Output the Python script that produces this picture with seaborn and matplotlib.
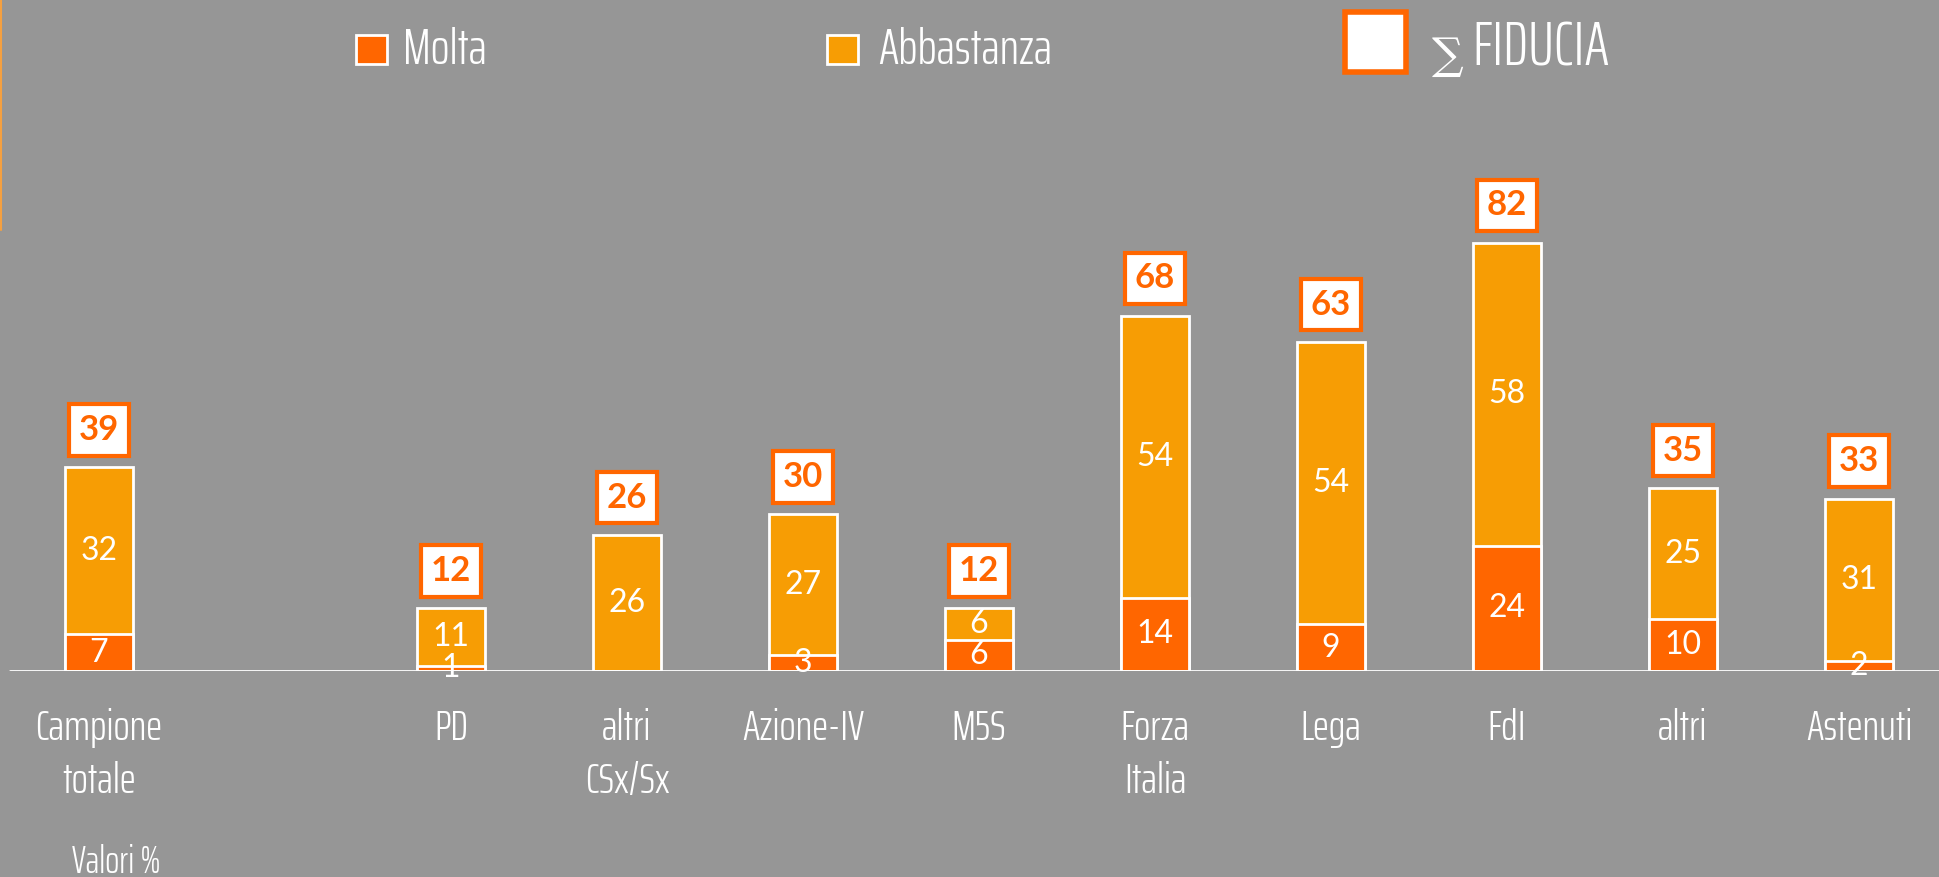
import matplotlib
matplotlib.use("Agg")
import matplotlib.pyplot as plt
from matplotlib.patches import Rectangle
from matplotlib.lines import Line2D
import seaborn as sns
import pandas as pd

categories = ["Campione\ntotale", "PD", "altri\nCSx/Sx", "Azione-IV", "M5S",
              "Forza\nItalia", "Lega", "FdI", "altri", "Astenuti"]
molta = [7, 1, 0, 3, 6, 14, 9, 24, 10, 2]
abbastanza = [32, 11, 26, 27, 6, 54, 54, 58, 25, 31]
fiducia = [39, 12, 26, 30, 12, 68, 63, 82, 35, 33]

# empty slot after the total sample
order = [categories[0], " "] + categories[1:]

bg = "#969696"
c_molta = "#FF6600"
c_abb = "#F79D04"
cond = ["Saira ExtraCondensed", "DejaVu Sans"]

sns.set_style("white")
plt.rcParams["font.family"] = ["Lato", "DejaVu Sans"]

df = pd.DataFrame({"cat": categories, "molta": molta,
                   "abb": abbastanza, "tot": fiducia})

fig = plt.figure(figsize=(19.39, 8.77), dpi=100, facecolor=bg)
ax = fig.add_axes([0, 206 / 877, 1, 1 - 206 / 877])
ax.set_facecolor(bg)

sns.barplot(data=df, x="cat", y="tot", order=order, color=c_abb,
            edgecolor="white", linewidth=2, width=0.39, saturation=1, ax=ax)
sns.barplot(data=df, x="cat", y="molta", order=order, color=c_molta,
            edgecolor="white", linewidth=2, width=0.39, saturation=1, ax=ax)

ax.set_xlim(-0.5625, 10.4545)
ax.set_ylim(0, 128.5)
for s in ax.spines.values():
    s.set_visible(False)
ax.axhline(0, xmin=0.005, color="white", lw=2)
ax.set_yticks([])
ax.set_xlabel("")
ax.set_ylabel("")
ax.tick_params(axis="x", length=0, pad=27, colors="white")
for t in ax.get_xticklabels():
    t.set_fontfamily(cond)
    t.set_fontweight(300)
    t.set_fontsize(31)
    t.set_linespacing(1.4)
    t.set_verticalalignment("top")

for i, cat in enumerate(categories):
    x = order.index(cat)
    if molta[i] > 0:
        ax.text(x, molta[i] / 2, str(molta[i]), ha="center", va="center",
                color="white", fontsize=23)
    ax.text(x, molta[i] + abbastanza[i] / 2, str(abbastanza[i]), ha="center",
            va="center", color="white", fontsize=23)
    ax.annotate(str(fiducia[i]), (x, fiducia[i]), xytext=(0, 27),
                textcoords="offset points", ha="center", va="center",
                color=c_molta, fontsize=25, fontweight="bold",
                bbox=dict(boxstyle="square,pad=0.28", fc="white",
                          ec=c_molta, lw=3))

# legend
fig.patches.append(Rectangle((356 / 1939, 1 - 64 / 877), 31 / 1939, 29 / 877,
                             transform=fig.transFigure, fc=c_molta, ec="white", lw=2))
fig.text(403 / 1939, 1 - 50 / 877, "Molta", color="white", va="center",
         fontsize=36, family=cond, weight=300)
fig.patches.append(Rectangle((827 / 1939, 1 - 64 / 877), 31 / 1939, 29 / 877,
                             transform=fig.transFigure, fc=c_abb, ec="white", lw=2))
fig.text(878 / 1939, 1 - 50 / 877, "Abbastanza", color="white", va="center",
         fontsize=36, family=cond, weight=300)
fig.patches.append(Rectangle((1345 / 1939, 1 - 72 / 877), 61 / 1939, 60 / 877,
                             transform=fig.transFigure, fc="white", ec=c_molta, lw=4))
fig.text(1432 / 1939, 1 - 56 / 877, "∑", color="white", va="center",
         fontsize=32, family=["DejaVu Serif"])
fig.text(1472 / 1939, 1 - 48 / 877, "FIDUCIA", color="white", va="center",
         fontsize=44, family=cond, weight=300)

fig.text(72 / 1939, 1 - 862 / 877, "Valori %", color="white", va="center",
         fontsize=27, family=cond, weight=300)
fig.add_artist(Line2D([1 / 1939, 1 / 1939], [1, 1 - 230 / 877],
                      color="#F5A040", lw=1.5))

plt.savefig("out.png", dpi=100, facecolor=bg)
